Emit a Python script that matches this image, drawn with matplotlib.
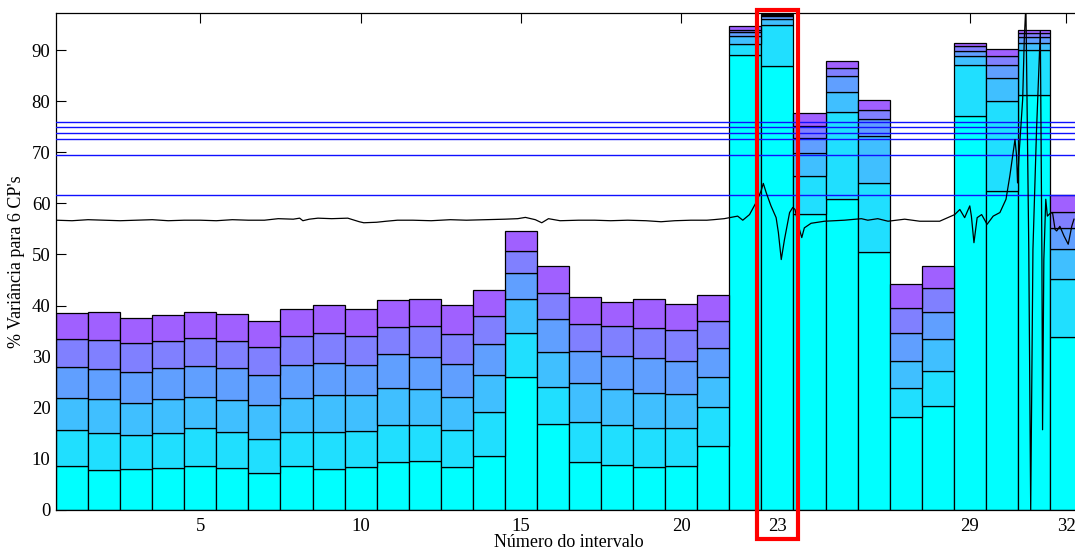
import matplotlib
matplotlib.use("Agg")
import matplotlib.pyplot as plt
from matplotlib.patches import Rectangle
import numpy as np

plt.rcParams['font.family'] = ['Liberation Serif', 'DejaVu Serif']

# ---------------- data ----------------
intervals = list(range(1, 33))

# cumulative % variance explained by the first k principal components
cum_cp1 = [8.69, 7.73, 7.93, 8.14, 8.55, 8.14, 7.18, 8.55, 7.93, 8.34,
           9.30, 9.51, 8.41, 10.6, 26.0, 16.89, 9.30, 8.89, 8.41, 8.62,
           12.59, 89.0, 86.8, 57.9, 60.8, 50.5, 18.26, 20.3, 77.0, 62.4,
           81.2, 33.9]
cum_cp2 = [15.73, 14.98, 14.77, 14.98, 16.14, 15.32, 13.89, 15.32, 15.32, 15.53,
           16.69, 16.69, 15.73, 19.15, 34.68, 24.15, 17.3, 16.55, 16.0, 16.0,
           20.18, 91.2, 94.8, 65.3, 77.9, 63.9, 23.94, 27.2, 87.0, 80.0,
           90.0, 45.1]
cum_cp3 = [22.0, 21.68, 21.0, 21.68, 22.16, 21.6, 20.45, 22.0, 22.57, 22.57,
           23.94, 23.73, 22.16, 26.4, 41.31, 30.98, 24.9, 23.73, 22.98, 22.78,
           26.06, 92.8, 96.1, 69.9, 81.8, 73.1, 29.2, 33.4, 88.9, 84.6,
           91.4, 51.0]
cum_cp4 = [27.9, 27.63, 26.95, 27.7, 28.1, 27.7, 26.4, 28.3, 28.8, 28.3,
           30.57, 29.96, 28.52, 32.49, 46.37, 37.28, 31.12, 30.16, 29.75, 29.2,
           31.74, 93.5, 96.6, 72.8, 85.0, 76.5, 34.54, 38.8, 89.8, 87.0,
           92.5, 55.1]
cum_cp5 = [33.4, 33.31, 32.63, 33.1, 33.58, 33.1, 31.87, 34.0, 34.6, 34.0,
           35.84, 36.05, 34.34, 37.96, 50.68, 42.48, 36.39, 35.91, 35.64, 35.3,
           37.0, 94.0, 96.9, 75.2, 86.5, 78.3, 39.47, 43.4, 90.8, 88.9,
           93.3, 58.4]
cum_cp6 = [38.6, 38.78, 37.62, 38.17, 38.78, 38.37, 37.0, 39.33, 40.08, 39.33,
           41.04, 41.31, 40.08, 43.09, 54.65, 47.67, 41.72, 40.63, 41.38, 40.29,
           42.0, 94.7, 97.1, 77.6, 87.8, 80.2, 44.19, 47.7, 91.4, 90.1,
           94.0, 61.7]

# horizontal reference levels
ref_levels = [76.0, 74.9, 73.8, 72.5, 69.5, 61.6]

# black signal trace
signal_x = [0.5, 1.0, 1.5, 2.0, 2.5, 3.0, 3.5, 4.0, 4.5, 5.0, 5.5, 6.0, 6.5, 7.0,
            7.43, 7.9, 8.1, 8.2, 8.4, 8.67, 9.1, 9.6, 9.96, 10.1, 10.5, 10.8,
            11.15, 11.63, 12.2, 12.8, 13.3, 13.9, 14.5, 14.9, 15.14, 15.45, 15.65,
            15.86, 16.22, 16.8, 17.3, 17.8, 18.33, 18.9, 19.37, 19.8, 20.3, 20.8,
            21.0, 21.34, 21.76, 21.92, 22.13, 22.33, 22.49, 22.56, 22.65, 22.8,
            22.96, 23.03, 23.12, 23.22, 23.38, 23.48, 23.55, 23.66, 23.76, 23.84,
            24.05, 24.47, 25.09, 25.62, 25.82, 26.13, 26.45, 26.97, 27.44, 28.06,
            28.53, 28.69, 28.84, 29.0, 29.05, 29.13, 29.23, 29.37, 29.54, 29.73,
            29.94, 30.13, 30.25, 30.41, 30.46, 30.49, 30.54, 30.65, 30.70, 30.75,
            30.84, 30.90, 30.97, 31.08, 31.20, 31.25, 31.27, 31.31, 31.37, 31.42,
            31.5, 31.58, 31.66, 31.71, 31.81, 31.94, 32.07, 32.18, 32.25]
signal_y = [56.7, 56.6, 56.8, 56.7, 56.6, 56.7, 56.8, 56.6, 56.7, 56.7, 56.6, 56.8,
            56.7, 56.7, 57.0, 56.9, 57.1, 56.6, 56.9, 57.1, 57.0, 57.1, 56.4, 56.2,
            56.3, 56.5, 56.7, 56.7, 56.6, 56.8, 56.7, 56.8, 56.9, 57.0, 57.25,
            56.8, 56.2, 57.0, 56.6, 56.7, 56.7, 56.6, 56.7, 56.6, 56.4, 56.6, 56.7,
            56.7, 56.8, 57.0, 57.5, 56.7, 57.8, 60.1, 62.4, 63.9, 62.1, 59.5, 57.2,
            54.3, 49.0, 52.9, 58.2, 59.2, 58.8, 55.5, 53.3, 55.2, 56.1, 56.5, 56.7,
            57.0, 56.7, 57.0, 56.5, 56.9, 56.5, 56.5, 57.8, 58.8, 57.2, 59.5, 57.5,
            52.3, 57.2, 57.8, 55.9, 57.5, 58.2, 60.8, 65.4, 72.5, 69.3, 64.0, 69.9,
            80.4, 92.2, 99.0, 51.0, 0.0, 51.0, 74.0, 93.8, 49.0, 15.7, 49.0, 60.8,
            57.5, 58.0, 58.2, 54.9, 54.6, 55.5, 53.6, 52.0, 55.5, 56.9]

xtick_values = [5, 10, 15, 20, 23, 29, 32]
ytick_values = list(range(0, 100, 10))
highlight_interval = 23

layer_colors = ['#00FFFF', '#20DFFF', '#40BFFF', '#609FFF', '#8080FF', '#A060FF']

# ---------------- figure ----------------
fig = plt.figure(figsize=(10.75, 5.5), dpi=100)
ax = fig.add_axes([56 / 1075, 40 / 550, 1026 / 1075, 497.3 / 550])

cums = [cum_cp1, cum_cp2, cum_cp3, cum_cp4, cum_cp5, cum_cp6]
prev = np.zeros(len(intervals))
for cum, col in zip(cums, layer_colors):
    cum = np.asarray(cum)
    ax.bar(intervals, cum - prev, bottom=prev, width=1.0, color=col,
           edgecolor='black', linewidth=0.9, zorder=2)
    prev = cum

for lvl in ref_levels:
    ax.axhline(lvl, color='#1010FF', linewidth=1.0, zorder=3)

ax.plot(signal_x, signal_y, color='black', linewidth=0.9, zorder=4)

ax.set_xlim(0.5, 32.5)
ax.set_ylim(0, 97.3)
ax.set_xticks(xtick_values)
ax.set_yticks(ytick_values)
ax.tick_params(direction='in', top=True, right=False, length=7.5, width=0.8,
               labelsize=13.5)
ax.tick_params(axis='x', pad=6)
ax.tick_params(axis='y', pad=4)
for s in ax.spines.values():
    s.set_linewidth(0.9)

ax.set_xlabel('Número do intervalo', fontsize=13, labelpad=-1)
ax.set_ylabel("% Variância para 6 CP's", fontsize=13, labelpad=5)

rect = Rectangle((highlight_interval - 0.64, -5.7), 1.28, 103.5,
                 transform=ax.transData, fill=False, edgecolor='red',
                 linewidth=3.0, clip_on=False, zorder=10)
ax.add_patch(rect)

fig.savefig('out.png', dpi=100)
